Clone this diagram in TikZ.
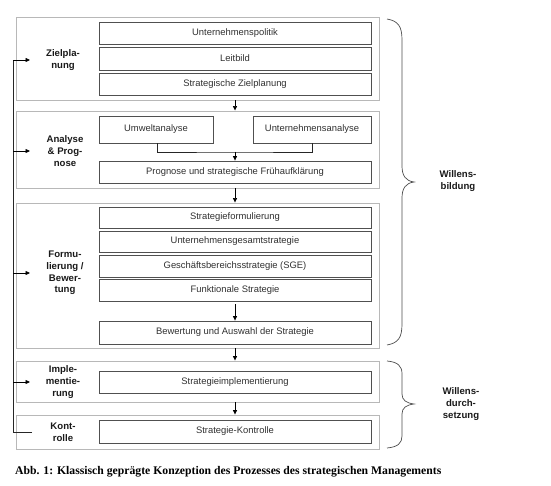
\documentclass[tikz,border=0pt]{standalone}
\usepackage{fontspec}
\setmainfont{Liberation Sans}
\newfontfamily\capfont{Liberation Serif}
\usetikzlibrary{arrows.meta}
\definecolor{zonec}{HTML}{B8B8B8}
\definecolor{boxc}{HTML}{505050}
\definecolor{txtc}{HTML}{303030}
\tikzset{
  zone/.style={draw=zonec, line width=0.9pt, minimum width=363pt, inner sep=0pt},
  inbox/.style={draw=boxc, line width=0.8pt, minimum width=272pt, inner sep=0pt, font=\fontsize{9.4}{10}\selectfont, text=txtc},
  lab/.style={align=center, font=\bfseries\fontsize{9.6}{11.7}\selectfont, text=black!90},
  arr/.style={-{Triangle[length=4.5pt,width=4pt]}, line width=0.7pt},
  ln/.style={line width=0.7pt, draw=black!85},
  brace/.style={line width=0.7pt, draw=black!70}
}
\begin{document}
\begin{tikzpicture}[x=1pt,y=-1pt]
\useasboundingbox (0,0) rectangle (551,486);
% zones
\node[zone, minimum height=83pt] (z1) at (197.5,58.5) {};
\node[zone, minimum height=77pt] (z2) at (197.5,149.5) {};
\node[zone, minimum height=145pt] (z3) at (197.5,275.5) {};
\node[zone, minimum height=41pt] (z4) at (197.5,381.5) {};
\node[zone, minimum height=34pt] (z5) at (197.5,432) {};
% inner boxes
\node[inbox, minimum height=22pt] (up) at (235,33) {Unternehmenspolitik};
\node[inbox, minimum height=23pt] (lb) at (235,58.5) {Leitbild};
\node[inbox, minimum height=22pt] (sz) at (235,84) {Strategische Zielplanung};
\node[inbox, minimum width=114pt, minimum height=27pt] (ua) at (156,129.5) {Umweltanalyse};
\node[inbox, minimum width=118pt, minimum height=27pt] (una) at (312,129.5) {Unternehmensanalyse};
\node[inbox, minimum height=22pt] (pf) at (235,172) {Prognose und strategische Frühaufklärung};
\node[inbox, minimum height=21pt] (sf) at (235,217.5) {Strategieformulierung};
\node[inbox, minimum height=21pt] (ug) at (235,241.5) {Unternehmensgesamtstrategie};
\node[inbox, minimum height=22pt] (gb) at (235,266) {Geschäftsbereichsstrategie (SGE)};
\node[inbox, minimum height=22pt] (fs) at (235,290) {Funktionale Strategie};
\node[inbox, minimum height=23pt] (bw) at (235,332.5) {Bewertung und Auswahl der Strategie};
\node[inbox, minimum height=22pt] (si) at (235,382) {Strategieimplementierung};
\node[inbox, minimum height=23pt] (sk) at (235,431.5) {Strategie-Kontrolle};
% labels
\node[lab] (l1) at (63,60) {Zielpla-\\nung};
\node[lab] (l2) at (65,151) {Analyse\\\& Prog-\\nose};
\node[lab] (l3) at (65,273) {Formu-\\lierung /\\Bewer-\\tung};
\node[lab] (l4) at (63,382) {Imple-\\mentie-\\rung};
\node[lab] (l5) at (63,432) {Kont-\\rolle};
% flow arrows
\draw[arr] (sz.south |- z1.south) -- (sz.south |- z2.north);
\coordinate (j) at (235,152);
\draw[ln] (ua.south -| 157,0) |- (j) -| (una.south);
\draw[arr] (j) -- (pf.north);
\draw[arr] (pf.south |- z2.south) -- (pf.south |- z3.north);
\draw[arr] (fs.south) ++(0,3) -- (bw.north);
\draw[arr] (bw.south |- z3.south) -- (bw.south |- z4.north);
\draw[arr] (si.south |- z4.south) -- (si.south |- z5.north);
% feedback loop
\coordinate (fk) at (32,432);
\coordinate (fb) at (13,432);
\draw[ln] (fk) -- (fb) -- (13,60);
\draw[arr] (13,60) -- (30,60);
\draw[arr] (13,151) -- (30,151);
\draw[arr] (13,273) -- (30,273);
\draw[arr] (13,382) -- (30,382);
% braces
\draw[brace] (387,19) .. controls (398,21) and (402,26) .. (402,40)
  -- (402,166) .. controls (402,176) and (406,181) .. (414,182)
  .. controls (406,183) and (402,188) .. (402,198)
  -- (402,324) .. controls (402,338) and (398,343) .. (387,345);
\draw[brace] (387,361) .. controls (398,362) and (402,366) .. (402,374)
  -- (402,394) .. controls (402,400) and (406,403) .. (414,404)
  .. controls (406,405) and (402,408) .. (402,414)
  -- (402,436) .. controls (402,443) and (398,447) .. (387,448);
\node[lab] (wb) at (458,181) {Willens-\\bildung};
\node[lab] (wd) at (461,404) {Willens-\\durch-\\setzung};
% caption
\node[anchor=west, inner sep=0pt, font=\capfont\bfseries\fontsize{11.7}{13}\selectfont] (cap) at (15,472) {Abb. 1: Klassisch geprägte Konzeption des Prozesses des strategischen Managements};
\end{tikzpicture}
\end{document}
